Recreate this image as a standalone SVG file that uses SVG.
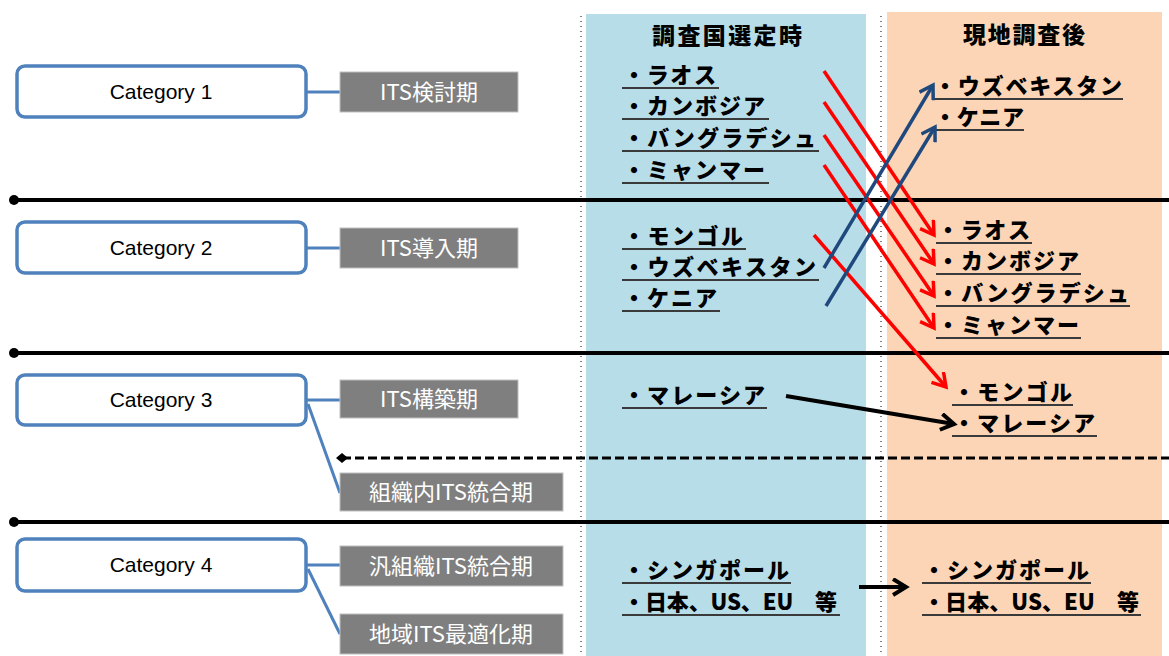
<svg xmlns="http://www.w3.org/2000/svg" width="1169" height="656" viewBox="0 0 1169 656">
<defs>
<style>
.cat{fill:#fff;stroke:#4f81bd;stroke-width:3.5}
.catt{font-family:"Liberation Sans","Noto Sans",sans-serif;font-size:21px;fill:#000;text-anchor:middle}
.gb{fill:#7f7f7f;stroke:#c0c0c0;stroke-width:1}
.gt{font-family:"Noto Sans CJK JP","Noto Sans",sans-serif;font-size:22px;fill:#fff;text-anchor:middle}
.lk{stroke:#4f81bd;stroke-width:3;fill:none}
.hl{stroke:#000;stroke-width:4}
.dot{fill:#000}
.li{font-family:"Noto Sans CJK JP",sans-serif;font-size:22px;font-weight:900;fill:#000}
.hd{font-family:"Noto Sans CJK JP",sans-serif;font-size:23px;font-weight:900;fill:#000;text-anchor:middle}
.ul{stroke:#3a3a3a;stroke-width:2}
.vd{stroke:#000;stroke-width:1;stroke-dasharray:1 4}
.red{stroke:#ff0000;stroke-width:3.5;fill:none}
.blu{stroke:#1f497d;stroke-width:3.5;fill:none}
.blk{stroke:#000;stroke-width:4;fill:none}
</style>
<marker id="mr" markerUnits="userSpaceOnUse" markerWidth="22" markerHeight="22" refX="14" refY="9" orient="auto"><path d="M1,1 L14,9 L1,17" fill="none" stroke="#ff0000" stroke-width="3.5"/></marker>
<marker id="mb" markerUnits="userSpaceOnUse" markerWidth="22" markerHeight="22" refX="14" refY="9" orient="auto"><path d="M1,1 L14,9 L1,17" fill="none" stroke="#1f497d" stroke-width="3.5"/></marker>
<marker id="mk" markerUnits="userSpaceOnUse" markerWidth="22" markerHeight="22" refX="14" refY="9" orient="auto"><path d="M1,1 L14,9 L1,17" fill="none" stroke="#000" stroke-width="4"/></marker>
</defs>
<rect width="1169" height="656" fill="#fff"/>

<g id="columns">
<rect x="586" y="14" width="280" height="642" fill="#b7dde8"/>
<rect x="887" y="12" width="275" height="644" fill="#fbd5b5"/>
<line class="vd" x1="581" y1="16" x2="581" y2="656"/>
<line class="vd" x1="881" y1="16" x2="881" y2="656"/>
<text class="hd" x="727" y="44" textLength="150" lengthAdjust="spacing">調査国選定時</text>
<text class="hd" x="1024" y="43" textLength="122" lengthAdjust="spacing">現地調査後</text>
</g>

<g id="separators">
<line class="hl" x1="14" y1="200" x2="1169" y2="200"/><circle class="dot" cx="14" cy="200" r="5"/>
<line class="hl" x1="14" y1="353" x2="1169" y2="353"/><circle class="dot" cx="14" cy="353" r="5"/>
<line class="hl" x1="14" y1="522" x2="1169" y2="522"/><circle class="dot" cx="14" cy="522" r="5"/>
<line x1="342" y1="458" x2="1169" y2="458" stroke="#000" stroke-width="3" stroke-dasharray="9 4"/>
<path d="M336,458 L342,453 L348,458 L342,463 Z" fill="#000"/>
</g>

<g id="cat1">
<rect class="cat" x="17" y="66" width="289" height="51" rx="8"/>
<text class="catt" x="161" y="99">Category 1</text>
<line class="lk" x1="306" y1="92" x2="340" y2="92"/>
<rect class="gb" x="340" y="72" width="178" height="40"/>
<text class="gt" x="429" y="100">ITS検討期</text>
</g>

<g id="cat2">
<rect class="cat" x="17" y="222" width="289" height="51" rx="8"/>
<text class="catt" x="161" y="255">Category 2</text>
<line class="lk" x1="306" y1="248" x2="340" y2="248"/>
<rect class="gb" x="340" y="228" width="178" height="40"/>
<text class="gt" x="429" y="256">ITS導入期</text>
</g>

<g id="cat3">
<rect class="cat" x="17" y="375" width="289" height="50" rx="8"/>
<text class="catt" x="161" y="407">Category 3</text>
<line class="lk" x1="306" y1="400" x2="340" y2="400"/>
<line class="lk" x1="308" y1="404" x2="340" y2="493"/>
<rect class="gb" x="340" y="380" width="178" height="38"/>
<text class="gt" x="429" y="407">ITS構築期</text>
<rect class="gb" x="340" y="473" width="223" height="38"/>
<text class="gt" x="451" y="500">組織内ITS統合期</text>
</g>

<g id="cat4">
<rect class="cat" x="17" y="539" width="289" height="52" rx="8"/>
<text class="catt" x="161" y="572">Category 4</text>
<line class="lk" x1="306" y1="565" x2="340" y2="565"/>
<line class="lk" x1="308" y1="569" x2="340" y2="634"/>
<rect class="gb" x="340" y="546" width="223" height="40"/>
<text class="gt" x="451" y="574">汎組織ITS統合期</text>
<rect class="gb" x="340" y="614" width="223" height="40"/>
<text class="gt" x="451" y="642">地域ITS最適化期</text>
</g>

<g id="list-before">
<text class="li" x="623" y="83" textLength="93" lengthAdjust="spacing">・ラオス</text><line class="ul" x1="622" y1="88" x2="719" y2="88"/>
<text class="li" x="623" y="114" textLength="142" lengthAdjust="spacing">・カンボジア</text><line class="ul" x1="622" y1="119" x2="769" y2="119"/>
<text class="li" x="623" y="146" textLength="193" lengthAdjust="spacing">・バングラデシュ</text><line class="ul" x1="622" y1="151" x2="819" y2="151"/>
<text class="li" x="623" y="178" textLength="142" lengthAdjust="spacing">・ミャンマー</text><line class="ul" x1="622" y1="183" x2="769" y2="183"/>
<text class="li" x="623" y="244" textLength="120" lengthAdjust="spacing">・モンゴル</text><line class="ul" x1="622" y1="249" x2="746" y2="249"/>
<text class="li" x="623" y="275" textLength="193" lengthAdjust="spacing">・ウズベキスタン</text><line class="ul" x1="622" y1="280" x2="819" y2="280"/>
<text class="li" x="623" y="306" textLength="94" lengthAdjust="spacing">・ケニア</text><line class="ul" x1="622" y1="311" x2="720" y2="311"/>
<text class="li" x="623" y="403" textLength="142" lengthAdjust="spacing">・マレーシア</text><line class="ul" x1="622" y1="408" x2="767" y2="408"/>
<text class="li" x="623" y="578" textLength="166" lengthAdjust="spacing">・シンガポール</text><line class="ul" x1="622" y1="583" x2="791" y2="583"/>
<text class="li" x="623" y="610" textLength="214" lengthAdjust="spacing">・日本、US、EU　等</text><line class="ul" x1="622" y1="615" x2="840" y2="615"/>
</g>

<g id="list-after">
<text class="li" x="934" y="94" textLength="188" lengthAdjust="spacing">・ウズベキスタン</text><line class="ul" x1="933" y1="99" x2="1123" y2="99"/>
<text class="li" x="934" y="125" textLength="90" lengthAdjust="spacing">・ケニア</text><line class="ul" x1="933" y1="130" x2="1024" y2="130"/>
<text class="li" x="937" y="238" textLength="93" lengthAdjust="spacing">・ラオス</text><line class="ul" x1="936" y1="243" x2="1032" y2="243"/>
<text class="li" x="937" y="269" textLength="142" lengthAdjust="spacing">・カンボジア</text><line class="ul" x1="936" y1="274" x2="1081" y2="274"/>
<text class="li" x="937" y="301" textLength="192" lengthAdjust="spacing">・バングラデシュ</text><line class="ul" x1="936" y1="306" x2="1130" y2="306"/>
<text class="li" x="937" y="333" textLength="142" lengthAdjust="spacing">・ミャンマー</text><line class="ul" x1="936" y1="338" x2="1081" y2="338"/>
<text class="li" x="953" y="400" textLength="119" lengthAdjust="spacing">・モンゴル</text><line class="ul" x1="952" y1="405" x2="1073" y2="405"/>
<text class="li" x="953" y="431" textLength="142" lengthAdjust="spacing">・マレーシア</text><line class="ul" x1="952" y1="436" x2="1097" y2="436"/>
<text class="li" x="923" y="578" textLength="166" lengthAdjust="spacing">・シンガポール</text><line class="ul" x1="922" y1="583" x2="1091" y2="583"/>
<text class="li" x="923" y="610" textLength="216" lengthAdjust="spacing">・日本、US、EU　等</text><line class="ul" x1="922" y1="615" x2="1141" y2="615"/>
</g>

<g id="connectors">
<line class="red" x1="824" y1="71" x2="934" y2="235" marker-end="url(#mr)"/>
<line class="red" x1="824" y1="102" x2="934" y2="264" marker-end="url(#mr)"/>
<line class="red" x1="824" y1="135" x2="934" y2="296" marker-end="url(#mr)"/>
<line class="red" x1="824" y1="165" x2="934" y2="328" marker-end="url(#mr)"/>
<line class="red" x1="814" y1="235" x2="946" y2="387" marker-end="url(#mr)"/>
<line class="blu" x1="824" y1="268" x2="933" y2="85" marker-end="url(#mb)"/>
<line class="blu" x1="826" y1="306" x2="935" y2="127" marker-end="url(#mb)"/>
<line class="blk" x1="786" y1="396" x2="954" y2="424" marker-end="url(#mk)"/>
<line class="blk" x1="859" y1="587" x2="906" y2="587" marker-end="url(#mk)"/>
</g>
</svg>
